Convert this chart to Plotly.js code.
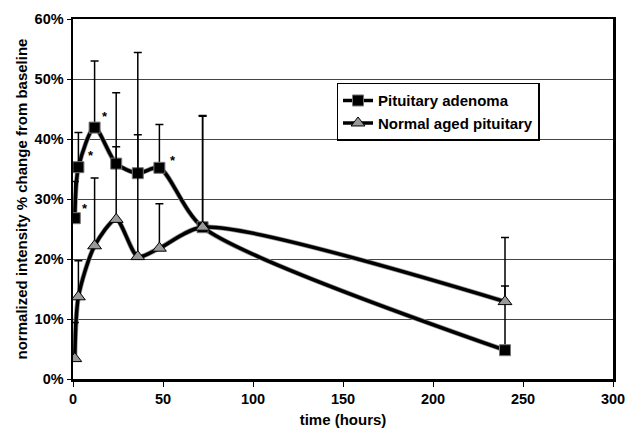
<!DOCTYPE html>
<html>
<head>
<meta charset="utf-8">
<script src="https://cdn.plot.ly/plotly-3.0.1.min.js"></script>
<style>html,body{margin:0;padding:0;background:#fff;}#chart{width:627px;height:428px;}</style>
</head>
<body>
<div id="chart"></div>
<script>
// Data (time in hours, values in %)
const times = [1, 3, 12, 24, 36, 48, 72, 240];
const adenomaMean = [26.8, 35.3, 41.9, 35.9, 34.3, 35.2, 25.3, 4.8];
const adenomaErrUp = [6.1, 5.8, 11.1, 11.8, 20.1, 7.2, 18.5, 10.7];
const normalMean = [3.4, 13.7, 22.2, 26.6, 20.4, 21.8, 25.3, 12.9];
const normalErrUp = [6.0, 6.0, 11.3, 12.1, 20.3, 7.4, 18.6, 10.7];
const zeros = [0, 0, 0, 0, 0, 0, 0, 0];
const starX = [6.7, 9.8, 17.5, 55.4];
const starY = [28.4, 37.2, 43.7, 36.4];
const yTickVals = [0, 10, 20, 30, 40, 50, 60];
const yTickText = ['0%', '10%', '20%', '30%', '40%', '50%', '60%'];
const xTickVals = [0, 50, 100, 150, 200, 250, 300];

const fam = 'Liberation Sans, Arial, sans-serif';
const tickFont = {family: fam, size: 14.5, color: '#000', weight: 'bold'};
const titleFont = {family: fam, size: 15, color: '#000', weight: 'bold'};
const yTitleFont = {family: fam, size: 15, color: '#000', weight: 'bold'};
const legendFont = {family: fam, size: 15, color: '#000', weight: 'bold'};
const smooth = 0.75;

const traces = [
  // shadows
  {x: times, y: adenomaMean, mode: 'lines', line: {color: '#9a9a9a', width: 5, shape: 'spline', smoothing: smooth}, showlegend: false, hoverinfo: 'skip'},
  {x: times, y: normalMean, mode: 'lines', line: {color: '#9a9a9a', width: 5, shape: 'spline', smoothing: smooth}, showlegend: false, hoverinfo: 'skip'},
  {
    x: times, y: adenomaMean, name: 'Pituitary adenoma', mode: 'lines+markers',
    line: {color: '#000', width: 3.5, shape: 'spline', smoothing: smooth},
    marker: {symbol: 'square', size: 11, color: '#000', line: {color: '#777', width: 1}},
    error_y: {type: 'data', symmetric: false, array: adenomaErrUp, arrayminus: zeros, color: '#000', thickness: 1.5, width: 4}
  },
  {
    x: times, y: normalMean, name: 'Normal aged pituitary', mode: 'lines+markers',
    line: {color: '#000', width: 3.5, shape: 'spline', smoothing: smooth},
    marker: {symbol: 'triangle-up', size: 12, color: '#999', line: {color: '#000', width: 1}},
    error_y: {type: 'data', symmetric: false, array: normalErrUp, arrayminus: zeros, color: '#000', thickness: 1.5, width: 4}
  }
];

const annotations = starX.map((x, i) => ({
  x: x, y: starY[i], xref: 'x', yref: 'y', text: '*', showarrow: false,
  font: {family: fam, size: 13, color: '#000'}
}));

const layout = {
  width: 627, height: 428,
  margin: {l: 73, r: 14, t: 19, b: 49},
  paper_bgcolor: '#fff', plot_bgcolor: '#fff',
  font: tickFont,
  showlegend: true,
  legend: {
    x: 0.488, y: 0.823, xanchor: 'left', yanchor: 'top',
    bgcolor: '#fff', bordercolor: '#000', borderwidth: 1.5,
    font: legendFont, tracegroupgap: 0
  },
  xaxis: {
    range: [0, 300], tickvals: xTickVals, ticks: 'outside', ticklen: 5, tickcolor: '#000',
    showline: true, linecolor: '#000', linewidth: 2.5, mirror: true,
    showgrid: false, zeroline: false, tickfont: tickFont,
    title: {text: 'time (hours)', font: titleFont, standoff: 9}
  },
  yaxis: {
    range: [0, 60], tickvals: yTickVals, ticktext: yTickText, ticks: 'outside', ticklen: 4, tickcolor: '#000',
    showline: true, linecolor: '#000', linewidth: 2.5, mirror: true,
    showgrid: true, gridcolor: '#444', gridwidth: 1, zeroline: false, tickfont: tickFont,
    title: {text: 'normalized intensity % change from baseline', font: yTitleFont, standoff: 4}
  },
  annotations: annotations
};

Plotly.newPlot('chart', traces, layout, {displayModeBar: false, staticPlot: true});
</script>
</body>
</html>
